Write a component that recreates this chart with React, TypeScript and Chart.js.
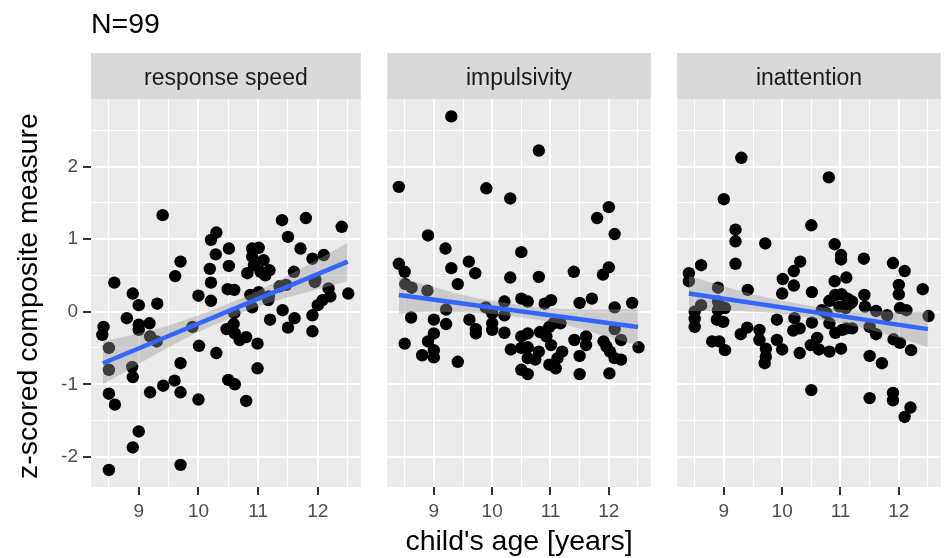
import React, { useEffect, useRef } from 'react';
import { Chart, registerables } from 'chart.js';

Chart.register(...registerables);

const FONT = '"Liberation Sans", Arial, Helvetica, sans-serif';

const TITLE = 'N=99';
const X_TITLE = "child's age [years]";
const Y_TITLE = 'z-scored composite measure';
const PANEL_LABELS = ['response speed', 'impulsivity', 'inattention'];

const X_TICKS = [8.5, 9, 9.5, 10, 10.5, 11, 11.5, 12, 12.5];
const Y_TICKS = [-2, -1.5, -1, -0.5, 0, 0.5, 1, 1.5, 2, 2.5];
const X_MIN = 8.2;
const X_MAX = 12.72;
const Y_MIN = -2.415;
const Y_MAX = 2.93;

// ---- response speed ----
const speedAge = [
  9.40, 11.40, 11.80, 12.40, 10.30, 10.21, 11.50, 10.51, 10.90, 11.01,
  11.71, 10.29, 10.90, 11.09, 11.91, 12.10, 9.70, 10.19, 10.51, 9.61,
  10.82, 10.93, 11.04, 11.19, 11.12, 11.60, 8.59, 10.21, 11.96, 8.90,
  10.49, 10.60, 10.00, 10.21, 9.00, 9.31, 10.87, 11.01, 11.36, 11.47,
  12.18, 12.21, 12.08, 12.00, 12.51, 10.60, 10.90, 11.17, 11.41, 11.91,
  8.80, 9.00, 9.18, 8.41, 9.90, 11.20, 11.61, 11.50, 11.91, 10.47,
  10.59, 10.61, 10.69, 10.80, 9.00, 8.39, 8.50, 9.19, 9.30, 10.99,
  10.01, 10.30, 9.70, 8.89, 8.90, 8.50, 10.99, 10.50, 10.61, 9.60,
  9.41, 9.19, 9.70, 8.50, 10.00, 10.80, 8.60, 9.00, 8.90, 8.50,
  9.70, 11.18, 11.95,
];
const speedScore = [
  1.33, 1.26, 1.29, 1.17, 1.09, 0.99, 1.03, 0.87, 0.87, 0.88,
  0.87, 0.79, 0.76, 0.71, 0.73, 0.78, 0.69, 0.59, 0.63, 0.49,
  0.53, 0.64, 0.55, 0.57, 0.50, 0.55, 0.40, 0.40, 0.44, 0.25,
  0.31, 0.30, 0.22, 0.15, 0.09, 0.11, 0.23, 0.27, 0.35, 0.37,
  0.32, 0.21, 0.16, 0.09, 0.25, -0.02, 0.06, 0.16, 0.02, -0.05,
  -0.09, -0.18, -0.16, -0.21, -0.21, -0.11, -0.09, -0.22, -0.27, -0.24,
  -0.17, -0.30, -0.39, -0.35, -0.25, -0.32, -0.50, -0.34, -0.41, -0.44,
  -0.47, -0.57, -0.71, -0.76, -0.90, -0.80, -0.78, -0.94, -1.00, -0.95,
  -1.02, -1.11, -1.11, -1.13, -1.21, -1.23, -1.28, -1.65, -1.87, -2.18,
  -2.11, 0.21, 0.41,
];

// ---- impulsivity ----
const impAge = [
  9.30, 10.80, 8.40, 9.90, 10.31, 12.00, 11.80, 12.10, 8.90, 9.20,
  10.50, 8.40, 8.50, 9.30, 9.60, 9.71, 10.31, 10.80, 11.40, 11.90,
  12.00, 9.41, 8.51, 8.62, 8.89, 9.21, 9.89, 10.00, 10.21, 10.21,
  10.50, 10.61, 10.90, 11.01, 11.50, 11.71, 12.10, 12.40, 8.61, 9.00,
  9.21, 9.61, 9.72, 9.72, 10.00, 10.00, 10.21, 10.50, 10.61, 10.82,
  10.93, 10.98, 11.05, 11.17, 11.41, 11.61, 11.61, 12.10, 11.91, 11.96,
  12.21, 12.51, 8.50, 8.80, 8.90, 9.00, 9.00, 9.00, 9.41, 10.32,
  10.50, 10.61, 10.80, 10.61, 10.74, 11.01, 11.20, 11.12, 10.98, 11.09,
  11.50, 12.02, 12.10, 12.21, 10.50, 10.61, 11.50, 12.01,
];
const impScore = [
  2.69, 2.22, 1.72, 1.70, 1.56, 1.44, 1.29, 1.07, 1.05, 0.87,
  0.82, 0.66, 0.55, 0.60, 0.69, 0.53, 0.47, 0.48, 0.55, 0.51,
  0.61, 0.38, 0.38, 0.33, 0.29, 0.03, 0.06, -0.02, 0.14, -0.05,
  0.18, 0.14, 0.11, 0.16, 0.12, 0.18, 0.06, 0.12, -0.08, -0.11,
  -0.17, -0.11, -0.24, -0.30, -0.16, -0.25, -0.29, -0.34, -0.30, -0.28,
  -0.34, -0.21, -0.16, -0.16, -0.39, -0.34, -0.46, -0.24, -0.41, -0.48,
  -0.39, -0.49, -0.44, -0.60, -0.41, -0.30, -0.53, -0.63, -0.69, -0.52,
  -0.50, -0.49, -0.55, -0.64, -0.66, -0.46, -0.55, -0.64, -0.73, -0.78,
  -0.61, -0.55, -0.64, -0.66, -0.80, -0.86, -0.86, -0.85,
];

// ---- inattention ----
const inaAge = [
  9.30, 10.80, 9.00, 10.50, 9.20, 9.20, 9.71, 10.90, 11.01, 11.01,
  11.40, 11.90, 12.10, 8.61, 9.20, 10.31, 10.20, 11.10, 10.90, 8.40,
  8.40, 10.01, 10.20, 12.00, 12.41, 8.90, 9.41, 10.00, 10.51, 11.41,
  10.81, 10.91, 11.02, 11.12, 11.17, 8.90, 9.02, 8.90, 8.61, 8.50,
  8.50, 8.50, 8.88, 8.99, 10.98, 11.09, 10.68, 10.76, 11.42, 11.61,
  11.80, 12.02, 12.13, 12.51, 9.40, 9.29, 9.61, 9.61, 9.72, 9.72,
  9.70, 9.91, 9.91, 10.00, 10.21, 10.19, 10.30, 10.30, 10.51, 10.60,
  10.49, 10.63, 10.81, 10.91, 10.81, 11.01, 11.20, 11.03, 11.50, 11.61,
  11.91, 12.02, 12.21, 11.50, 11.71, 8.80, 8.92, 9.02, 10.50, 11.50,
  11.90, 11.90, 12.20, 12.10, 12.00, 11.20, 11.10,
];
const inaScore = [
  2.12, 1.85, 1.55, 1.19, 1.13, 0.97, 0.94, 0.93, 0.78, 0.72,
  0.73, 0.67, 0.56, 0.64, 0.66, 0.69, 0.56, 0.47, 0.42, 0.53,
  0.42, 0.45, 0.36, 0.37, 0.31, 0.33, 0.30, 0.25, 0.27, 0.23,
  0.15, 0.23, 0.24, 0.18, 0.11, 0.14, 0.05, 0.02, 0.09, 0.00,
  -0.10, -0.21, -0.11, -0.14, 0.07, 0.05, 0.02, -0.02, 0.07, 0.01,
  -0.05, 0.05, 0.02, -0.06, -0.22, -0.31, -0.25, -0.39, -0.51, -0.62,
  -0.71, -0.11, -0.39, -0.52, -0.09, -0.26, -0.23, -0.57, -0.15, -0.36,
  -0.46, -0.52, -0.16, -0.29, -0.55, -0.51, -0.23, -0.25, -0.21, -0.31,
  -0.38, -0.43, -0.53, -0.61, -0.71, -0.41, -0.41, -0.53, -1.08, -1.19,
  -1.12, -1.22, -1.32, -1.45, 0.24, 0.14, -0.23,
];

// ---- fitted lines and confidence bands ----
const FIT_X = [8.4, 12.5];
const speedFit = [-0.71, 0.69];
const impFit = [0.23, -0.21];
const inaFit = [0.25, -0.24];

const BAND_X = [8.4, 9.0, 9.5, 10.0, 10.5, 11.0, 11.5, 12.0, 12.5];
const speedLower = [-1.0, -0.72, -0.49, -0.28, -0.10, 0.07, 0.2, 0.31, 0.42];
const speedUpper = [-0.41, -0.3, -0.19, -0.05, 0.11, 0.29, 0.5, 0.72, 0.95];
const impLower = [-0.03, 0.0, -0.01, -0.03, -0.08, -0.14, -0.23, -0.35, -0.47];
const impUpper = [0.47, 0.34, 0.23, 0.15, 0.09, 0.05, 0.03, 0.03, 0.05];
const inaLower = [0.01, 0.01, 0.0, -0.03, -0.09, -0.16, -0.25, -0.36, -0.49];
const inaUpper = [0.49, 0.35, 0.24, 0.15, 0.08, 0.03, 0.01, 0.0, 0.01];

const PANELS = [
  { label: PANEL_LABELS[0], xs: speedAge, ys: speedScore, fit: speedFit, lower: speedLower, upper: speedUpper },
  { label: PANEL_LABELS[1], xs: impAge, ys: impScore, fit: impFit, lower: impLower, upper: impUpper },
  { label: PANEL_LABELS[2], xs: inaAge, ys: inaScore, fit: inaFit, lower: inaLower, upper: inaUpper },
];

// canvas boxes (page layout)
const CANVAS_W = [367, 276, 276];
const CANVAS_LEFT = [0, 381, 671];
const Y_AXIS_W = [91, 0, 0];
const H = 558;

const isMajor = (v: number) => Math.abs(v - Math.round(v)) < 1e-6;

const decorPlugin = {
  id: 'decor',
  beforeDraw(chart: any, _args: any, opts: any) {
    const { ctx, chartArea } = chart;
    const { left, top, right, bottom } = chartArea;
    ctx.save();
    ctx.fillStyle = '#EBEBEB';
    ctx.fillRect(left, top, right - left, bottom - top);
    const stripTop = top - 46;
    ctx.fillStyle = '#D9D9D9';
    ctx.fillRect(left, stripTop, right - left, top - stripTop);
    ctx.fillStyle = '#1A1A1A';
    ctx.font = `23px ${FONT}`;
    ctx.textAlign = 'center';
    ctx.textBaseline = 'alphabetic';
    ctx.fillText(opts.strip, (left + right) / 2, top - 14);
    if (opts.first) {
      ctx.fillStyle = '#000000';
      ctx.font = `28.5px ${FONT}`;
      ctx.textAlign = 'left';
      ctx.fillText(TITLE, left, 33);
      ctx.save();
      ctx.translate(37, (top + bottom) / 2 + 3);
      ctx.rotate(-Math.PI / 2);
      ctx.textAlign = 'center';
      ctx.font = `28.5px ${FONT}`;
      ctx.fillText(Y_TITLE, 0, 0);
      ctx.restore();
    }
    if (opts.middle) {
      ctx.fillStyle = '#000000';
      ctx.font = `28.5px ${FONT}`;
      ctx.textAlign = 'center';
      ctx.fillText(X_TITLE, (left + right) / 2, 550);
    }
    ctx.restore();
  },
};

function buildConfig(p: any, i: number): any {
  const pts = p.xs.map((x: number, j: number) => ({ x, y: p.ys[j] }));
  const lower = BAND_X.map((x, j) => ({ x, y: p.lower[j] }));
  const upper = BAND_X.map((x, j) => ({ x, y: p.upper[j] }));
  const fit = FIT_X.map((x, j) => ({ x, y: p.fit[j] }));
  const showY = i === 0;
  return {
    type: 'scatter',
    data: {
      datasets: [
        {
          type: 'scatter',
          data: pts,
          pointRadius: 6.2,
          pointBackgroundColor: '#000000',
          pointBorderWidth: 0,
          pointBorderColor: 'rgba(0,0,0,0)',
          order: 3,
        },
        {
          type: 'line',
          data: lower,
          borderWidth: 0,
          borderColor: 'rgba(0,0,0,0)',
          pointRadius: 0,
          fill: false,
          cubicInterpolationMode: 'monotone',
          order: 2,
        },
        {
          type: 'line',
          data: upper,
          borderWidth: 0,
          borderColor: 'rgba(0,0,0,0)',
          backgroundColor: 'rgba(153,153,153,0.4)',
          pointRadius: 0,
          fill: '-1',
          cubicInterpolationMode: 'monotone',
          order: 2,
        },
        {
          type: 'line',
          data: fit,
          borderColor: '#3366FF',
          borderWidth: 4.5,
          pointRadius: 0,
          fill: false,
          order: 1,
        },
      ],
    },
    options: {
      animation: false,
      responsive: false,
      devicePixelRatio: 1,
      events: [],
      layout: { padding: { left: 0, right: 0, top: 99, bottom: 0 } },
      plugins: {
        legend: { display: false },
        tooltip: { enabled: false },
        title: { display: false },
        decor: { strip: p.label, first: i === 0, middle: i === 1 },
      },
      scales: {
        x: {
          type: 'linear',
          min: X_MIN,
          max: X_MAX,
          afterBuildTicks: (s: any) => {
            s.ticks = X_TICKS.map((v) => ({ value: v }));
          },
          afterFit: (s: any) => {
            s.height = 71;
          },
          ticks: {
            autoSkip: false,
            maxRotation: 0,
            minRotation: 0,
            padding: 5,
            color: '#4D4D4D',
            font: { family: FONT, size: 19 },
            callback: (v: number) => (isMajor(v) ? String(v) : ''),
          },
          grid: {
            color: '#FFFFFF',
            lineWidth: (c: any) => (c.tick && isMajor(c.tick.value) ? 2 : 1),
            tickColor: (c: any) => (c.tick && isMajor(c.tick.value) ? '#333333' : 'rgba(0,0,0,0)'),
            tickWidth: 2,
            tickLength: 8,
            drawTicks: true,
          },
          border: { display: false },
        },
        y: {
          type: 'linear',
          min: Y_MIN,
          max: Y_MAX,
          afterBuildTicks: (s: any) => {
            s.ticks = Y_TICKS.map((v) => ({ value: v }));
          },
          afterFit: (s: any) => {
            s.width = Y_AXIS_W[i];
          },
          ticks: {
            display: showY,
            autoSkip: false,
            padding: 5,
            color: '#4D4D4D',
            font: { family: FONT, size: 19 },
            callback: (v: number) => (isMajor(v) ? String(v) : ''),
          },
          grid: {
            color: '#FFFFFF',
            lineWidth: (c: any) => (c.tick && isMajor(c.tick.value) ? 2 : 1),
            tickColor: (c: any) => (c.tick && isMajor(c.tick.value) ? '#333333' : 'rgba(0,0,0,0)'),
            tickWidth: 2,
            tickLength: 8,
            drawTicks: showY,
          },
          border: { display: false },
        },
      },
    },
    plugins: [decorPlugin],
  };
}

export default function App() {
  const r0 = useRef<HTMLCanvasElement>(null);
  const r1 = useRef<HTMLCanvasElement>(null);
  const r2 = useRef<HTMLCanvasElement>(null);
  const refs = [r0, r1, r2];

  useEffect(() => {
    document.body.style.margin = '0';
    const charts = PANELS.map((p, i) => new Chart(refs[i].current as HTMLCanvasElement, buildConfig(p, i)));
    return () => {
      charts.forEach((c) => c.destroy());
    };
  }, []);

  return (
    <div
      style={{
        position: 'absolute',
        left: 0,
        top: 0,
        width: 945,
        height: H,
        overflow: 'hidden',
        background: '#FFFFFF',
      }}
    >
      {PANELS.map((_, i) => (
        <canvas
          key={i}
          ref={refs[i]}
          width={CANVAS_W[i]}
          height={H}
          style={{ position: 'absolute', left: CANVAS_LEFT[i], top: 0, width: CANVAS_W[i], height: H }}
        />
      ))}
    </div>
  );
}
